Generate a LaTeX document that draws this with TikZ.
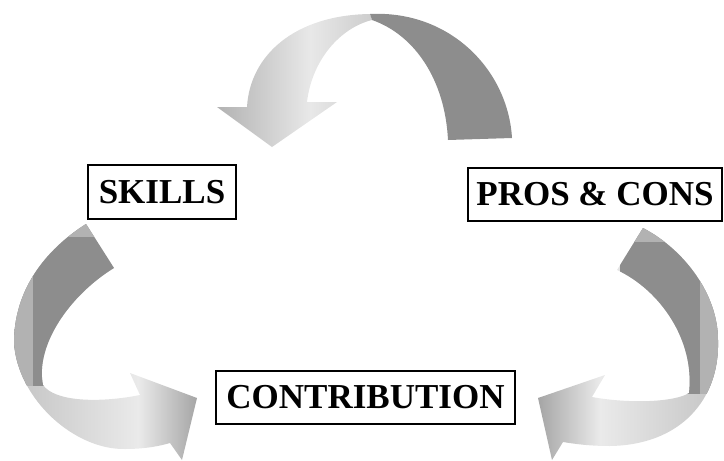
\documentclass[tikz,border=0pt]{standalone}
\usepackage{fontspec}
\setmainfont{Liberation Serif}
\definecolor{ribdark}{RGB}{141,141,141}
\definecolor{ribstrip}{RGB}{178,178,178}
\definecolor{la}{RGB}{196,196,196}
\definecolor{lb}{RGB}{234,234,234}
\definecolor{lc}{RGB}{165,165,165}
\definecolor{ta}{RGB}{178,178,178}
\definecolor{tb}{RGB}{232,232,232}
\definecolor{tc}{RGB}{205,205,205}
\pgfdeclarehorizontalshading{leftshade}{100bp}{color(0bp)=(la); color(25bp)=(la); color(59bp)=(lb); color(75bp)=(lc); color(100bp)=(lc)}
\pgfdeclarehorizontalshading{rightshade}{100bp}{color(0bp)=(lc); color(25bp)=(lc); color(42bp)=(lb); color(75bp)=(la); color(100bp)=(la)}
\pgfdeclarehorizontalshading{topshade}{100bp}{color(0bp)=(ta); color(25bp)=(ta); color(55bp)=(tb); color(75bp)=(tc); color(100bp)=(tc)}
\begin{document}
\begin{tikzpicture}[x=1pt,y=-1pt,
  label box/.style={draw=black,line width=2.2pt,inner sep=0pt,
    font=\fontsize{35}{40}\selectfont\bfseries}]
\useasboundingbox (0,0) rectangle (724,461);
% ---- paths of the ribbon arrows
\def\toplight{(370,14) .. controls (295,15) and (250,55) .. (247,107) -- (217,107) -- (272,147) -- (337,102) -- (307,102) .. controls (312,60) and (340,28) .. (372,20) -- cycle}
\def\topdark{(370,14) .. controls (450,10) and (508,70) .. (512,138) -- (448,140) .. controls (445,80) and (415,35) .. (372,20) -- cycle}
\def\leftrib{(86,224) .. controls (45,250) and (14,290) .. (14,343) .. controls (18,400) and (75,450) .. (125,449) .. controls (145,449) and (160,446) .. (170,443) -- (182,460) -- (197,398) -- (130,373) -- (140,395) .. controls (100,403) and (55,402) .. (43,385) .. controls (35,345) and (70,295) .. (114,268) -- cycle}
\def\rightrib{(643,228) .. controls (685,250) and (718,295) .. (718,340) .. controls (720,400) and (680,445) .. (610,446) .. controls (590,446) and (575,444) .. (563,442) -- (552,460) -- (538,398) -- (605,375) -- (592,397) .. controls (630,404) and (675,402) .. (689,393) .. controls (695,340) and (660,290) .. (617,270) -- cycle}
% ---- top arrow
\shade[shading=topshade] \toplight;
\fill[ribdark] \topdark;
% ---- left arrow
\shade[shading=leftshade] \leftrib;
\begin{scope}
  \clip \leftrib;
  \fill[ribdark] (0,200) rectangle (120,386);
  \fill[ribstrip] (0,200) rectangle (33,386);
  \fill[ribstrip] (0,200) rectangle (120,237);
\end{scope}
% ---- right arrow
\shade[shading=rightshade] \rightrib;
\begin{scope}
  \clip \rightrib;
  \fill[ribdark] (620,200) rectangle (724,394);
  \fill[ribstrip] (700,200) rectangle (724,394);
  \fill[ribstrip] (620,200) rectangle (724,242);
\end{scope}
% ---- labels
\node[label box,minimum width=148pt,minimum height=54pt] (skills) at (162,192) {SKILLS};
\node[label box,minimum width=254pt,minimum height=53pt] (pros) at (595,194.5) {PROS \& CONS};
\node[label box,minimum width=299pt,minimum height=53pt] (contrib) at (365.5,397.5) {CONTRIBUTION};
\end{tikzpicture}
\end{document}
